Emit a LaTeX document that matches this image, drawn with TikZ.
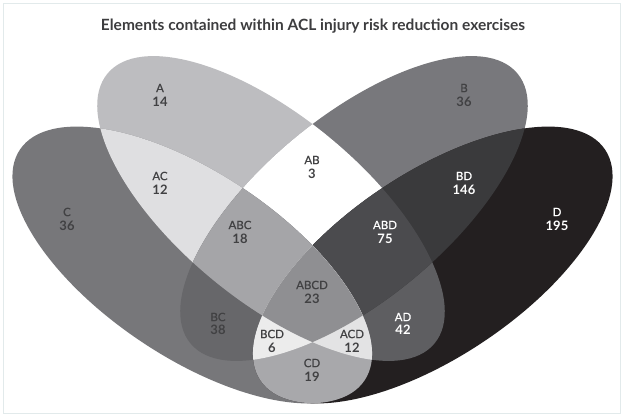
\documentclass[tikz,border=0pt]{standalone}
\usepackage{fontspec}
\setmainfont{Lato}
\newfontfamily\latomed[FakeBold=0.8]{Lato}
\definecolor{cAo}{HTML}{BDBDC0}
\definecolor{cBo}{HTML}{78787C}
\definecolor{cCo}{HTML}{77777A}
\definecolor{cDo}{HTML}{231F20}
\definecolor{cAB}{HTML}{FFFFFF}
\definecolor{cAC}{HTML}{DFDFE1}
\definecolor{cAD}{HTML}{5E5E61}
\definecolor{cBC}{HTML}{67676A}
\definecolor{cBD}{HTML}{3A3A3C}
\definecolor{cCD}{HTML}{A8A8AB}
\definecolor{cABC}{HTML}{A5A5A8}
\definecolor{cABD}{HTML}{4B4B4E}
\definecolor{cACD}{HTML}{E3E3E4}
\definecolor{cBCD}{HTML}{ECECEC}
\definecolor{cABCD}{HTML}{8F8F92}
\definecolor{txtdark}{HTML}{414143}
\definecolor{titlecol}{HTML}{3D3D3F}
\definecolor{framecol}{HTML}{E2EAEB}
\newcommand\clipEA{\clip[rotate around={-39.5:(271,208.5)}] (271,208.5) ellipse [x radius=212, y radius=92];}
\newcommand\clipEB{\clip[rotate around={39.5:(354,208.5)}] (354,208.5) ellipse [x radius=212, y radius=92];}
\newcommand\clipEC{\clip[rotate around={-33.8:(192.25,265)}] (192.25,265) ellipse [x radius=207.4, y radius=92];}
\newcommand\fillEA[1]{\fill[#1,rotate around={-39.5:(271,208.5)}] (271,208.5) ellipse [x radius=212, y radius=92];}
\newcommand\fillEB[1]{\fill[#1,rotate around={39.5:(354,208.5)}] (354,208.5) ellipse [x radius=212, y radius=92];}
\newcommand\fillEC[1]{\fill[#1,rotate around={-33.8:(192.25,265)}] (192.25,265) ellipse [x radius=207.4, y radius=92];}
\newcommand\fillED[1]{\fill[#1,rotate around={33.8:(432.75,265)}] (432.75,265) ellipse [x radius=207.4, y radius=92];}
\begin{document}
\begin{tikzpicture}[x=1pt,y=-1pt,
  setlbl/.style={inner sep=0pt, anchor=center, font=\latomed\fontsize{11.5}{13}\selectfont},
  setnum/.style={inner sep=0pt, anchor=center, font=\bfseries\fontsize{13}{15}\selectfont},
  dk/.style={text=txtdark},
  wt/.style={text=white}]
\useasboundingbox (0,0) rectangle (624,418);
\fill[white] (0,0) rectangle (624,418);
\draw[framecol, line width=0.8pt] (3,3) rectangle (620.5,413.5);
% single sets
\fillEA{cAo}
\fillEB{cBo}
\fillEC{cCo}
\fillED{cDo}
% pairs
\begin{scope}\clipEA \fillEB{cAB}\end{scope}
\begin{scope}\clipEA \fillEC{cAC}\end{scope}
\begin{scope}\clipEA \fillED{cAD}\end{scope}
\begin{scope}\clipEB \fillEC{cBC}\end{scope}
\begin{scope}\clipEB \fillED{cBD}\end{scope}
\begin{scope}\clipEC \fillED{cCD}\end{scope}
% triples
\begin{scope}\clipEA \clipEB \fillEC{cABC}\end{scope}
\begin{scope}\clipEA \clipEB \fillED{cABD}\end{scope}
\begin{scope}\clipEA \clipEC \fillED{cACD}\end{scope}
\begin{scope}\clipEB \clipEC \fillED{cBCD}\end{scope}
% all four
\begin{scope}\clipEA \clipEB \clipEC \fillED{cABCD}\end{scope}
% title
\node[anchor=base, inner sep=0pt, text=titlecol, font=\bfseries\fontsize{15.5}{18}\selectfont] (title) at (313,30) {Elements contained within ACL injury risk reduction exercises};
% labels
\node[setlbl,dk] (lA) at (160,88) {A};      \node[setnum,dk] (nA) at (160,102) {14};
\node[setlbl,dk] (lB) at (464,88) {B};      \node[setnum,dk] (nB) at (464,102) {36};
\node[setlbl,dk] (lC) at (67,212) {C};      \node[setnum,dk] (nC) at (67,225.5) {36};
\node[setlbl,wt] (lD) at (557,212) {D};     \node[setnum,wt] (nD) at (557,225.5) {195};
\node[setlbl,dk] (lAB) at (312,160) {AB};   \node[setnum,dk] (nAB) at (312,173.5) {3};
\node[setlbl,dk] (lAC) at (160,176) {AC};   \node[setnum,dk] (nAC) at (160,189.5) {12};
\node[setlbl,wt] (lBD) at (464,176) {BD};   \node[setnum,wt] (nBD) at (464,189.5) {146};
\node[setlbl,dk] (lABC) at (240,225) {ABC}; \node[setnum,dk] (nABC) at (240,238.5) {18};
\node[setlbl,wt] (lABD) at (385,225) {ABD}; \node[setnum,wt] (nABD) at (385,238.5) {75};
\node[setlbl,dk] (lABCD) at (312,285) {ABCD}; \node[setnum,dk] (nABCD) at (312,298.5) {23};
\node[setlbl,dk] (lBC) at (218,317) {BC};   \node[setnum,dk] (nBC) at (218,329.5) {38};
\node[setlbl,wt] (lAD) at (403,317) {AD};   \node[setnum,wt] (nAD) at (403,329.5) {42};
\node[setlbl,dk] (lBCD) at (272,334) {BCD}; \node[setnum,dk] (nBCD) at (272,347.5) {6};
\node[setlbl,dk] (lACD) at (352,334) {ACD}; \node[setnum,dk] (nACD) at (352,347.5) {12};
\node[setlbl,dk] (lCD) at (312,363) {CD};   \node[setnum,dk] (nCD) at (312,376.5) {19};
\end{tikzpicture}
\end{document}
